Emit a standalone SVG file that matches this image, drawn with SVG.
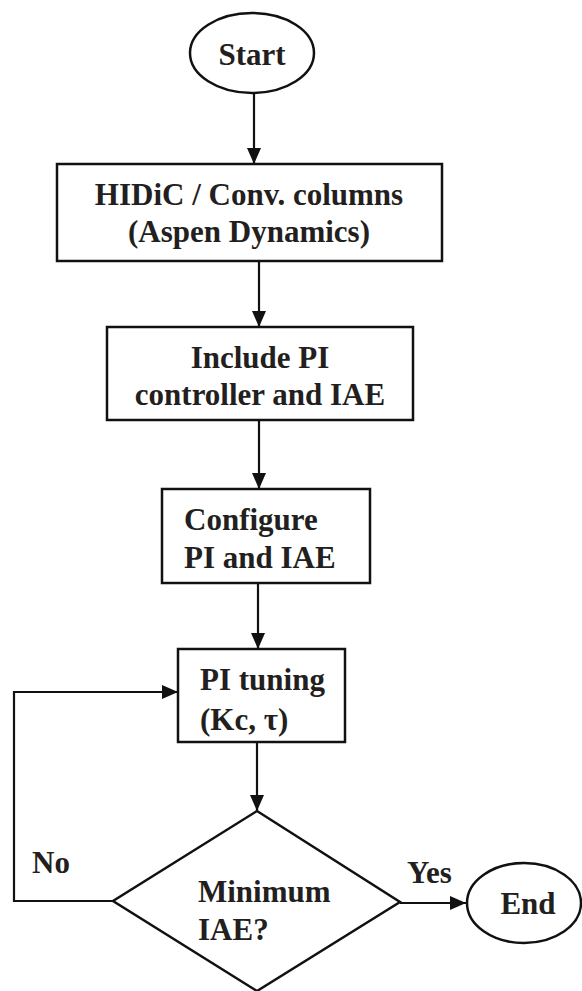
<svg xmlns="http://www.w3.org/2000/svg" width="582" height="991" viewBox="0 0 582 991">
<defs>
<style>
.shape{fill:#fff;stroke:#111;stroke-width:2.5}
.line{fill:none;stroke:#111;stroke-width:2.2}
.t{font-family:'Liberation Serif','Times New Roman',Times,serif;font-weight:bold;font-size:31px;fill:#231f20}
.c{text-anchor:middle}
</style>
<marker id="ah" markerUnits="userSpaceOnUse" markerWidth="16" markerHeight="14" refX="16" refY="7" orient="auto">
<path d="M0,0 L16,7 L0,14 z" fill="#111"/>
</marker>
</defs>
<rect width="582" height="991" fill="#fff"/>
<g id="connectors">
<line class="line" x1="254" y1="93" x2="254" y2="164" marker-end="url(#ah)"/>
<line class="line" x1="259" y1="261" x2="259" y2="327" marker-end="url(#ah)"/>
<line class="line" x1="259" y1="420" x2="259" y2="489" marker-end="url(#ah)"/>
<line class="line" x1="258" y1="583" x2="258" y2="649" marker-end="url(#ah)"/>
<line class="line" x1="257" y1="742" x2="257" y2="811" marker-end="url(#ah)"/>
<polyline class="line" points="113,901 14,901 14,692 178,692" marker-end="url(#ah)"/>
<line class="line" x1="400" y1="903" x2="466" y2="903" marker-end="url(#ah)"/>
<text class="t" x="32" y="873" font-family="Liberation Serif, serif">No</text>
<text class="t" x="407" y="883" font-family="Liberation Serif, serif">Yes</text>
</g>
<g id="start">
<ellipse class="shape" cx="252" cy="53" rx="62" ry="40"/>
<text class="t c" x="252" y="65">Start</text>
</g>
<g id="hidic">
<rect class="shape" x="57" y="164" width="385" height="97"/>
<text class="t c" x="249" y="205">HIDiC / Conv. columns</text>
<text class="t c" x="249" y="242">(Aspen Dynamics)</text>
</g>
<g id="include">
<rect class="shape" x="107" y="327" width="306" height="93"/>
<text class="t c" x="260" y="368">Include PI</text>
<text class="t c" x="260" y="405">controller and IAE</text>
</g>
<g id="configure">
<rect class="shape" x="162" y="489" width="208" height="94"/>
<text class="t" x="184" y="530">Configure</text>
<text class="t" x="184" y="568">PI and IAE</text>
</g>
<g id="tuning">
<rect class="shape" x="178" y="649" width="167" height="93"/>
<text class="t" x="200" y="690">PI tuning</text>
<text class="t" x="200" y="730">(Kc, τ)</text>
</g>
<g id="decision">
<polygon class="shape" points="257,811 400,902 257,991 113,901"/>
<text class="t" x="198" y="902">Minimum</text>
<text class="t" x="198" y="940">IAE?</text>
</g>
<g id="end">
<ellipse class="shape" cx="524" cy="903" rx="57" ry="40"/>
<text class="t c" x="528" y="914">End</text>
</g>
</svg>
